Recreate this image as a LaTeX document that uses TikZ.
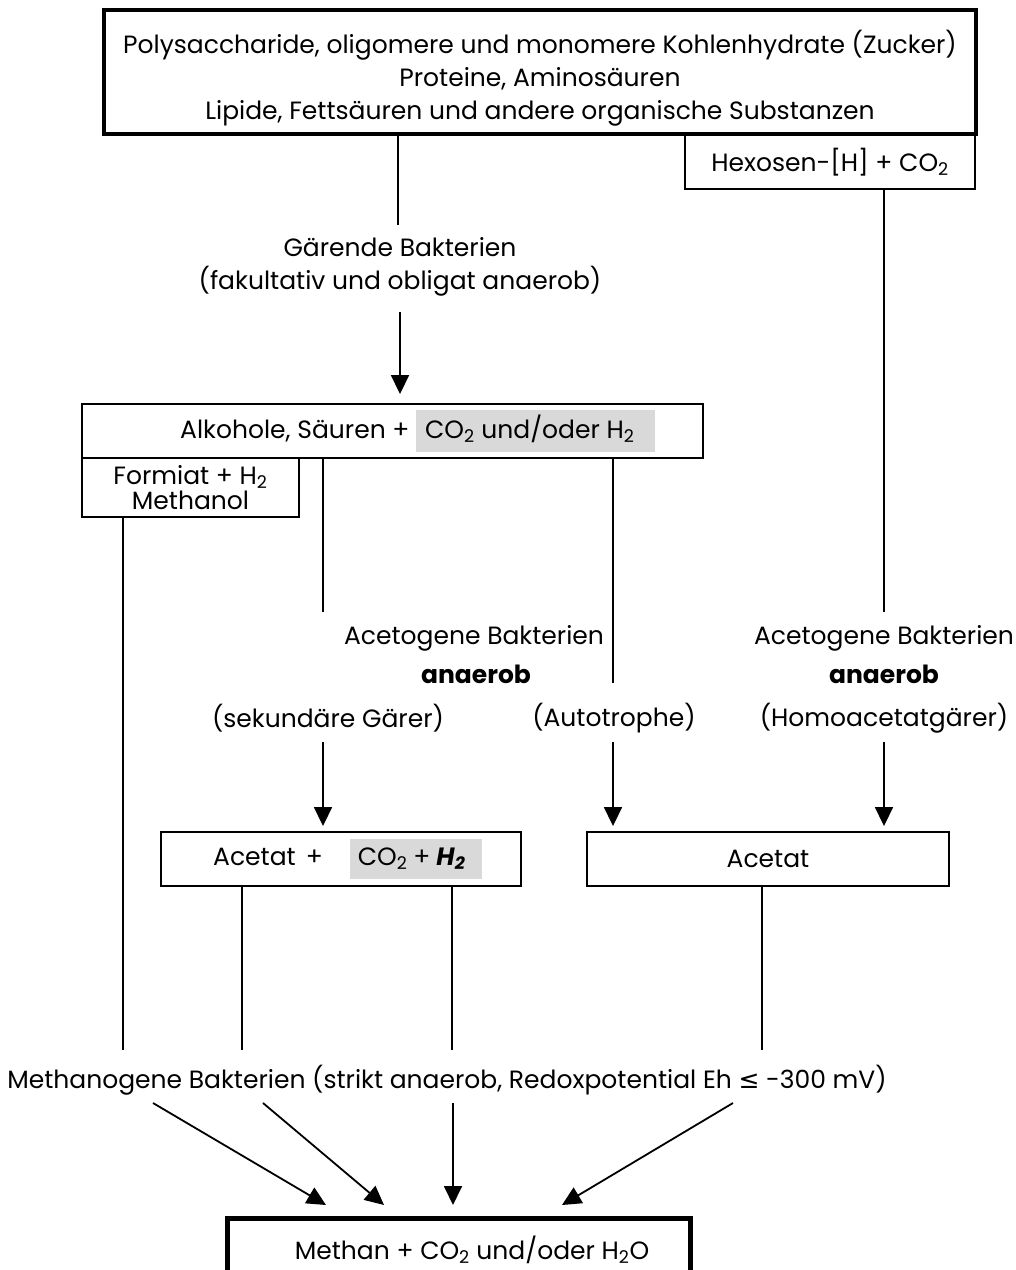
\documentclass[tikz,border=0pt]{standalone}
\usepackage{fontspec}
\setmainfont{Poppins}
\newfontfamily\djv{DejaVu Sans}
\usetikzlibrary{arrows.meta,calc}
\definecolor{hl}{gray}{0.85}
\setlength\fboxsep{5pt}
\newcommand\hlstrut{\rule[-9pt]{0pt}{30pt}}
\begin{document}
\begin{tikzpicture}[x=1pt,y=1pt,
  every node/.style={font=\fontsize{25}{33}\selectfont, inner sep=0pt},
  box/.style={draw, line width=1.9pt},
  thickbox/.style={draw, line width=4.5pt},
  conn/.style={line width=1.8pt},
  arr/.style={line width=1.8pt, -{Triangle[length=19pt,width=18pt]}},
  bld/.style={font=\fontsize{25}{33}\selectfont\bfseries}]
\useasboundingbox (0,0) rectangle (1016,-1270);

% top box
\node[thickbox, minimum width=872, minimum height=124] (top) at (540,-72) {};
\node[align=center] (topt) at (540,-78)
  {Polysaccharide, oligomere und monomere Kohlenhydrate (Zucker)\\
   Proteine, Aminosäuren\\
   Lipide, Fettsäuren und andere organische Substanzen};
\node[box, minimum width=290, minimum height=54] (hex) at (830,-162) {Hexosen-[H] + CO\textsubscript{2}};

% fermenting bacteria
\node[align=center] (gar) at (400,-267) {Gärende Bakterien\\(fakultativ und obligat anaerob)};
\coordinate (g1) at (398,-225);
\coordinate (g2) at (400,-312);

% Alkohole box
\node[box, minimum width=621, minimum height=54] (alk) at (392.5,-431) {};
\node[anchor=west] (alkt) at (180,-431) {Alkohole, Säuren + \colorbox{hl}{\hlstrut\hspace{4pt}CO\textsubscript{2} und/oder H\textsubscript{2}\hspace{16pt}}};
\node[box, minimum width=217, minimum height=59, align=center,
      font=\fontsize{25}{25}\selectfont] (form) at (190.5,-487.5) {Formiat + H\textsubscript{2}\\Methanol};

% acetogenic labels
\node (acl) at (474,-638) {Acetogene Bakterien};
\node[bld] (anl) at (476,-674) {anaerob};
\node (sek) at (328,-718) {(sekundäre Gärer)};
\node (aut) at (614,-718) {(Autotrophe)};
\node (acr) at (884,-638) {Acetogene Bakterien};
\node[bld] (anr) at (884,-674) {anaerob};
\node (hom) at (884,-718) {(Homoacetatgärer)};

\coordinate (l1) at (323,-612);
\coordinate (l2) at (613,-683);
\coordinate (l3) at (884,-612);
\coordinate (s1) at (323,-742);
\coordinate (s2) at (613,-742);
\coordinate (s3) at (884,-742);

% acetate boxes
\node[box, minimum width=360, minimum height=54] (ac1) at (341,-859) {};
\node[anchor=west] (ac1t) at (213,-859) {Acetat\hspace{10pt}+\hspace{27pt}\colorbox{hl}{\hlstrut\hspace{3pt}CO\textsubscript{2}\hspace{6pt}+\hspace{6pt}\textbf{\textit{H\textsubscript{2}}}\hspace{12pt}}};
\node[box, minimum width=362, minimum height=54] (ac2) at (768,-859) {Acetat};

% methanogens
\node (meth) at (447,-1080) {Methanogene Bakterien (strikt anaerob, Redoxpotential Eh {\djv ≤} -300 mV)};
\coordinate (m1) at (123,-1050);
\coordinate (m2) at (242,-1050);
\coordinate (m3) at (452,-1050);
\coordinate (m4) at (762,-1050);

\coordinate (a1) at (153,-1103);
\coordinate (a2) at (263,-1103);
\coordinate (a3) at (453,-1103);
\coordinate (a4) at (733,-1103);
\coordinate (e1) at (326,-1205);
\coordinate (e2) at (384,-1205);
\coordinate (e3) at (453,-1205);
\coordinate (e4) at (562,-1205);

% bottom box
\node[draw, line width=5pt, minimum width=463, minimum height=80] (bot) at (458.5,-1258) {};
\node (bott) at (472,-1250) {Methan + CO\textsubscript{2} und/oder H\textsubscript{2}O};

% connectors
\draw[conn] (top.south -| g1) -- (g1);
\draw[arr] (g2) -- ([yshift=9pt]alk.north -| g2);
\draw[conn] (alk.south -| l1) -- (l1);
\draw[conn] (alk.south -| l2) -- (l2);
\draw[conn] (hex.south -| l3) -- (l3);
\draw[arr] (s1) -- ([yshift=5pt]ac1.north -| s1);
\draw[arr] (s2) -- ([yshift=5pt]ac2.north -| s2);
\draw[arr] (s3) -- ([yshift=5pt]ac2.north -| s3);
\draw[conn] (form.south -| m1) -- (m1);
\draw[conn] (ac1.south -| m2) -- (m2);
\draw[conn] (ac1.south -| m3) -- (m3);
\draw[conn] (ac2.south -| m4) -- (m4);
\draw[arr] (a1) -- (e1);
\draw[arr] (a2) -- (e2);
\draw[arr] (a3) -- (e3);
\draw[arr] (a4) -- (e4);
\end{tikzpicture}
\end{document}
